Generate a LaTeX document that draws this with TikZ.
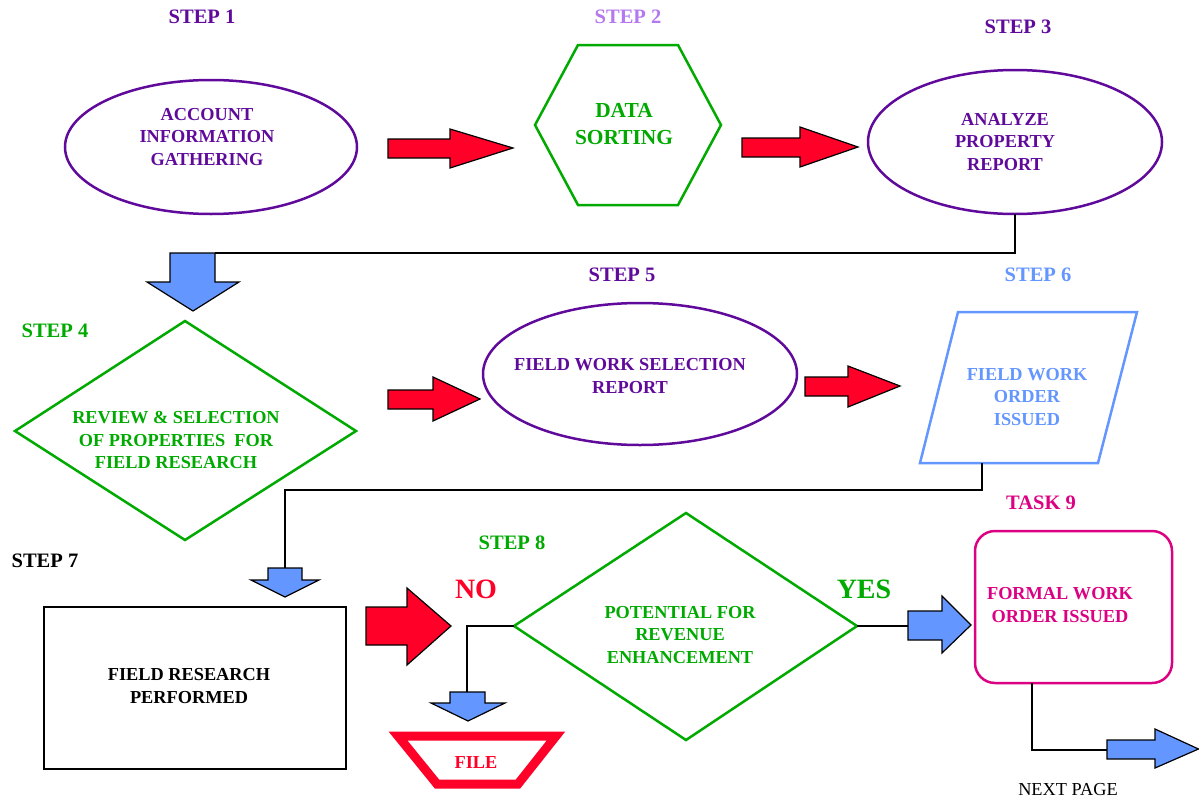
\documentclass[tikz,border=0pt]{standalone}
\usepackage{fontspec}
\setmainfont{Liberation Serif}
\usetikzlibrary{shapes.geometric}
\definecolor{cpurple}{RGB}{96,10,155}
\definecolor{clav}{RGB}{180,120,240}
\definecolor{cgreen}{RGB}{0,170,0}
\definecolor{cred}{RGB}{255,0,40}
\definecolor{cblue}{RGB}{100,150,255}
\definecolor{cmag}{RGB}{220,0,130}
\begin{document}
\begin{tikzpicture}[x=1pt,y=-1pt,
  lbl/.style={font=\fontsize{20.5}{24}\selectfont\bfseries, inner sep=0},
  txt/.style={font=\fontsize{18.3}{22.5}\selectfont\bfseries, align=center, inner sep=0},
  big/.style={font=\fontsize{28}{32}\selectfont\bfseries, inner sep=0},
  redarrow/.style={fill=cred, draw=black, line width=1.2pt, line join=miter},
  bluearrow/.style={fill=cblue, draw=black, line width=1.2pt, line join=miter},
  conn/.style={draw=black, line width=1.4pt},
  ell/.style={ellipse, draw=cpurple, line width=2.5pt, inner sep=0, outer sep=0},
  shapeline/.style={line width=2.5pt, line join=miter}
]
\useasboundingbox (0,0) rectangle (1199,803);

% ---- step labels
\node[lbl, text=cpurple] (s1) at (202,17) {STEP 1};
\node[lbl, text=clav] (s2) at (628,17) {STEP 2};
\node[lbl, text=cpurple] (s3) at (1018,27) {STEP 3};
\node[lbl, text=cgreen] (s4) at (55,331) {STEP 4};
\node[lbl, text=cpurple] (s5) at (622,275) {STEP 5};
\node[lbl, text=cblue] (s6) at (1038,275) {STEP 6};
\node[lbl, text=black] (s7) at (45,561) {STEP 7};
\node[lbl, text=cgreen] (s8) at (512,543) {STEP 8};
\node[lbl, text=cmag] (s9) at (1041,503) {TASK 9};

% ---- step 1
\node[ell, minimum width=292pt, minimum height=134pt] (e1) at (211,147) {};
\node[txt, text=cpurple] (t1) at (207,137) {ACCOUNT\\INFORMATION\\GATHERING};

% ---- step 2 hexagon
\draw[shapeline, draw=cgreen] (535,125) -- (578,45) -- (678,45) -- (721,125) -- (678,205) -- (578,205) -- cycle;
\node[txt, text=cgreen, font=\fontsize{21.4}{27}\selectfont\bfseries] (t2) at (624,124) {DATA\\SORTING};

% ---- step 3
\node[ell, minimum width=294pt, minimum height=144pt] (e3) at (1015,142) {};
\node[txt, text=cpurple] (t3) at (1005,142) {ANALYZE\\PROPERTY\\REPORT};

% ---- red arrows top row
\draw[redarrow] (388,139) -- (450,139) -- (450,129) -- (513,148) -- (450,168) -- (450,158) -- (388,158) -- cycle;
\draw[redarrow] (742,138) -- (800,138) -- (800,127) -- (858,147) -- (800,167) -- (800,157) -- (742,157) -- cycle;

% ---- connector 3 -> 4
\coordinate (a4) at (215,253);
\draw[conn] (e3.south) |- (a4);
\draw[bluearrow] (170,253) -- (215,253) -- (215,282) -- (239,282) -- (193,311) -- (147,282) -- (170,282) -- cycle;

% ---- step 4 diamond
\draw[shapeline, draw=cgreen] (15,431) -- (185,321) -- (356,431) -- (185,540) -- cycle;
\node[txt, text=cgreen] (t4) at (176,440) {REVIEW \& SELECTION\\OF PROPERTIES\ \ FOR\\FIELD RESEARCH};

\draw[redarrow] (388,390) -- (433,390) -- (433,377) -- (480,399) -- (433,421) -- (433,409) -- (388,409) -- cycle;

% ---- step 5
\node[ell, minimum width=314pt, minimum height=142pt] (e5) at (640,374) {};
\node[txt, text=cpurple] (t5) at (630,376) {FIELD WORK SELECTION\\REPORT};

\draw[redarrow] (805,377) -- (848,377) -- (848,366) -- (900,386) -- (848,407) -- (848,396) -- (805,396) -- cycle;

% ---- step 6 parallelogram
\draw[shapeline, draw=cblue] (958,312) -- (1137,312) -- (1098,463) -- (920,463) -- cycle;
\node[txt, text=cblue] (t6) at (1027,397) {FIELD WORK\\ORDER\\ISSUED};

% ---- connector 6 -> 7
\coordinate (p6) at (982,463);
\coordinate (a7) at (285,568);
\draw[conn] (p6) -- (982,490) -| (a7);
\draw[bluearrow] (268,568) -- (302,568) -- (302,580) -- (319,580) -- (285,597) -- (251,580) -- (268,580) -- cycle;

% ---- step 7 box
\draw[shapeline, draw=black] (44,607) rectangle (346,769);
\node[txt, text=black] (t7) at (189,686) {FIELD RESEARCH\\PERFORMED};

\draw[redarrow] (366,607) -- (407,607) -- (407,588) -- (451,626) -- (407,665) -- (407,645) -- (366,645) -- cycle;

% ---- step 8 diamond
\draw[shapeline, draw=cgreen] (514,626) coordinate (d8w) -- (686,513) -- (857,626) coordinate (d8e) -- (686,740) -- cycle;
\node[txt, text=cgreen] (t8) at (680,635) {POTENTIAL FOR\\REVENUE\\ENHANCEMENT};
\node[big, text=cred] (no) at (476,589) {NO};
\node[big, text=cgreen] (yes) at (864,589) {YES};

% ---- NO branch
\coordinate (af) at (467,692);
\draw[conn] (d8w) -| (af);
\draw[bluearrow] (450,692) -- (485,692) -- (485,703) -- (505,703) -- (468,721) -- (431,703) -- (450,703) -- cycle;
\draw[line width=9pt, draw=cred, line join=miter] (398,736) -- (556,736) -- (518,784) -- (437,784) -- cycle;
\node[txt, text=cred] (tf) at (476,762) {FILE};

% ---- YES branch
\coordinate (ay) at (908,626);
\draw[conn] (d8e) -- (ay);
\draw[bluearrow] (908,611) -- (942,611) -- (942,596) -- (971,625) -- (942,653) -- (942,640) -- (908,640) -- cycle;

% ---- task 9
\draw[shapeline, draw=cmag, rounded corners=20pt] (975,531) rectangle (1172,683);
\node[txt, text=cmag] (t9) at (1060,605) {FORMAL WORK\\ORDER ISSUED};

\coordinate (r9) at (1032,683);
\coordinate (an) at (1107,750);
\draw[conn] (r9) |- (an);
\draw[bluearrow] (1107,740) -- (1155,740) -- (1155,729) -- (1198.5,749) -- (1155,768) -- (1155,759) -- (1107,759) -- cycle;
\node[font=\fontsize{18.3}{22}\selectfont, inner sep=0] (np) at (1068,790) {NEXT PAGE};
\end{tikzpicture}
\end{document}
